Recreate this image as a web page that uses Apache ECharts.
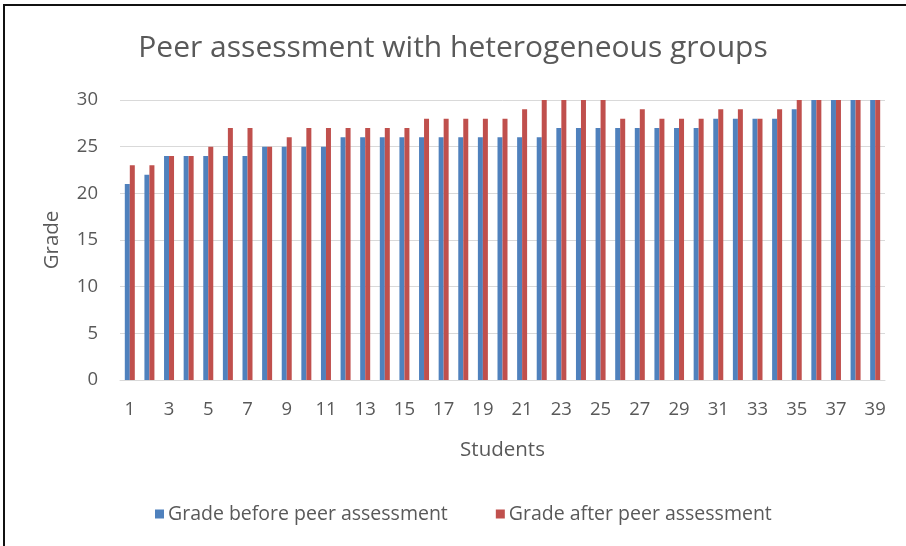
<!DOCTYPE html>
<html>
<head>
<meta charset="utf-8">
<script src="https://cdn.jsdelivr.net/npm/echarts@6/dist/echarts.min.js"></script>
<style>
html,body{margin:0;padding:0;background:#fff;}
#chart{width:906px;height:546px;position:relative;}
#frame{position:absolute;left:3px;top:4px;width:910px;height:560px;border-left:2px solid #111;border-top:2px solid #111;pointer-events:none;}
</style>
</head>
<body>
<div id="chart"></div>
<div id="frame"></div>
<script>
const students = Array.from({length: 39}, (_, i) => String(i + 1));
const gradeBefore = [21,22,24,24,24,24,24,25,25,25,25,26,26,26,26,26,26,26,26,26,26,26,27,27,27,27,27,27,27,27,28,28,28,28,29,30,30,30,30];
const gradeAfter  = [23,23,24,24,25,27,27,25,26,27,27,27,27,27,27,28,28,28,28,28,29,30,30,30,30,28,29,28,28,28,29,29,28,29,30,30,30,30,30];
const yTicks = [0, 5, 10, 15, 20, 25, 30];

const FONT = '"Open Sans", "Noto Sans", sans-serif';
const TXT = '#595959';
const chart = echarts.init(document.getElementById('chart'));
chart.setOption({
  animation: false,
  backgroundColor: '#fff',
  title: {
    text: 'Peer assessment with heterogeneous groups',
    left: 'center', top: 28,
    textStyle: {fontFamily: FONT, fontSize: 30, fontWeight: 'normal', color: TXT}
  },
  legend: {
    bottom: 17, left: 150, itemGap: 48,
    itemWidth: 9, itemHeight: 9, icon: 'rect',
    textStyle: {fontFamily: FONT, fontSize: 19.5, color: TXT, padding: [0,0,0,-1]}
  },
  grid: {left: 120, right: 21, top: 100, bottom: 166, containLabel: false},
  xAxis: {
    type: 'category', data: students,
    name: 'Students', nameLocation: 'middle', nameGap: 60,
    nameTextStyle: {fontFamily: FONT, fontSize: 20.5, color: TXT},
    axisLine: {lineStyle: {color: '#d9d9d9', width: 1}},
    axisTick: {show: false},
    axisLabel: {interval: 1, fontFamily: FONT, fontSize: 18.5, color: TXT, margin: 20}
  },
  yAxis: {
    type: 'value', min: yTicks[0], max: yTicks[yTicks.length-1], interval: 5,
    name: 'Grade', nameLocation: 'middle', nameGap: 57,
    nameTextStyle: {fontFamily: FONT, fontSize: 20.5, color: TXT},
    axisLine: {show: false}, axisTick: {show: false},
    axisLabel: {fontFamily: FONT, fontSize: 18.5, color: TXT, margin: 22},
    splitLine: {lineStyle: {color: '#d9d9d9', width: 1}}
  },
  series: [
    {name: 'Grade before peer assessment', type: 'bar', data: gradeBefore,
     barWidth: 5, barGap: '0%', itemStyle: {color: '#4F81BD'}},
    {name: 'Grade after peer assessment', type: 'bar', data: gradeAfter,
     barWidth: 5, itemStyle: {color: '#C0504D'}}
  ]
});
</script>
</body>
</html>
